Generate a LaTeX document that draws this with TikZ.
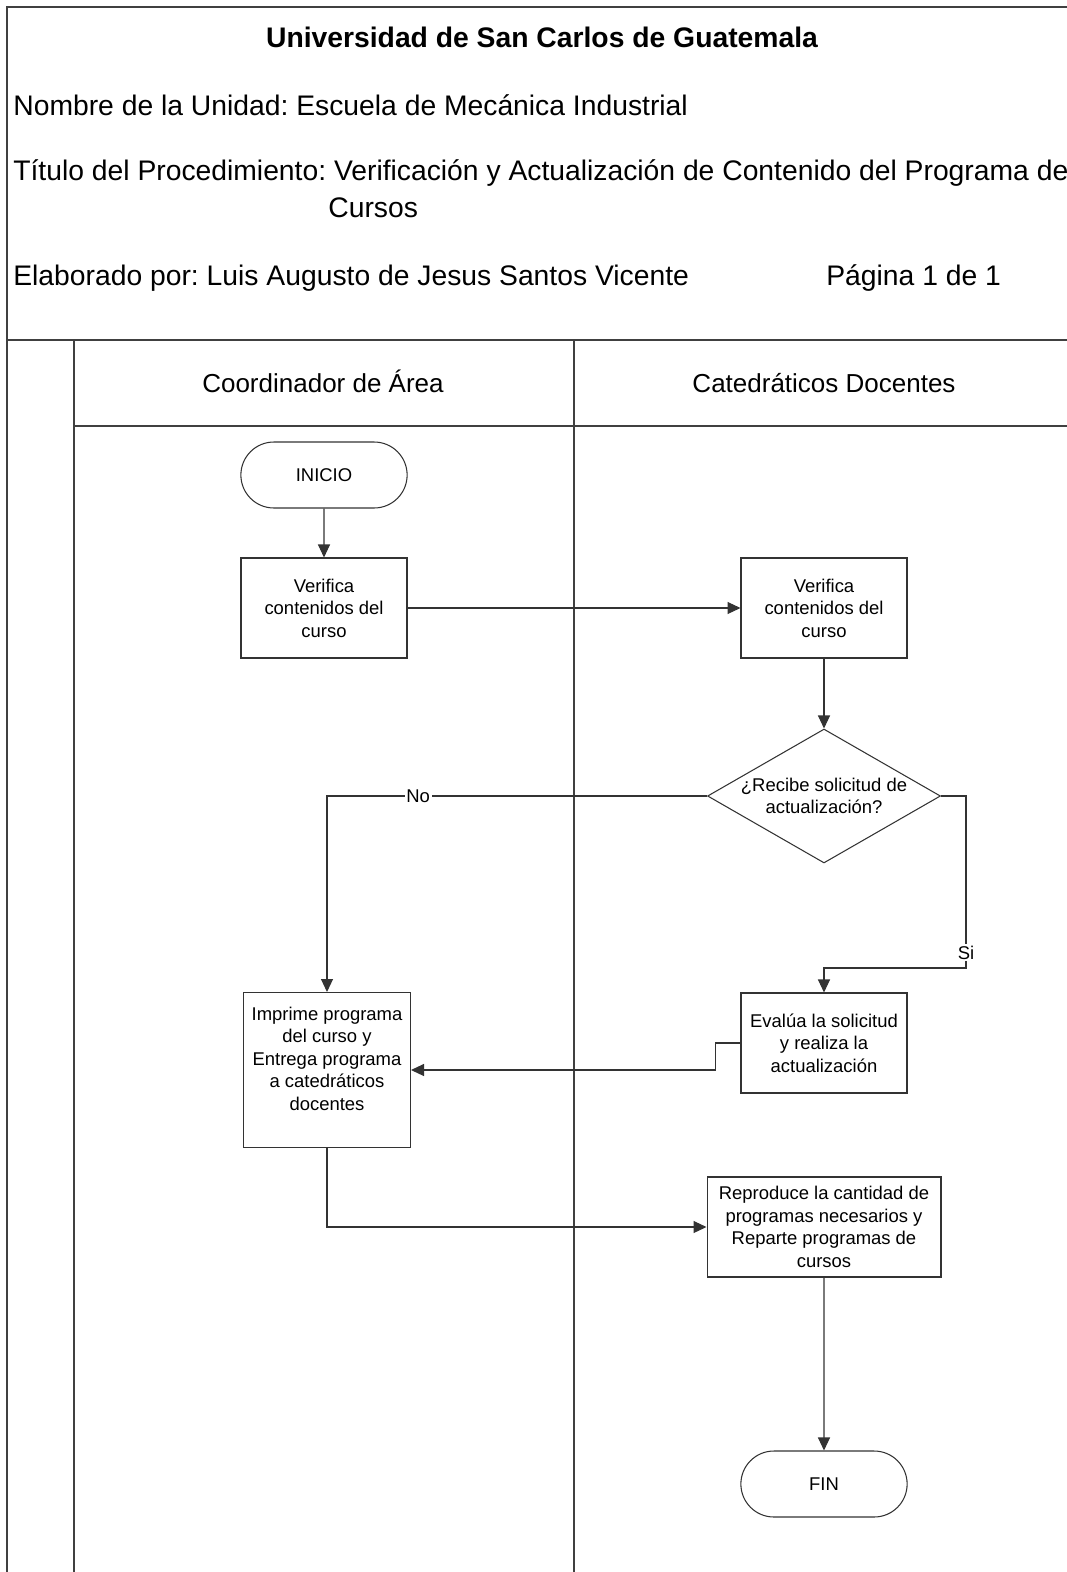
\documentclass[tikz,border=0pt]{standalone}
\usepackage{fontspec}
\setmainfont{Liberation Sans}
\frenchspacing
\usetikzlibrary{shapes.geometric,shapes.misc,arrows.meta}

\def\samebox{{(324,608)/ver1/{Verifica\\contenidos del\\curso}}, {(824,608)/ver2/{Verifica\\contenidos del\\curso}}, {(824,1043)/eval/{Evalúa la solicitud\\y realiza la\\actualización}}}
\def\ends{{(324,475)/ini/INICIO}, {(824,1484)/fin/FIN}}
\colorlet{frame edge}{black!75}
\colorlet{flow edge}{black!80}
\tikzset{
  frame/.style={draw=frame edge, line width=1.2pt},
  boxfont/.style={font=\fontsize{10.5pt}{12.8pt}\selectfont}
  }
\tikzstyle{process} = [rectangle, draw=flow edge, line width=0.6pt, boxfont, align=center, minimum width=3.32cm, minimum height=2cm, inner sep=0pt]
\tikzstyle{terminal} = [rounded rectangle, draw=flow edge, line width=0.6pt, boxfont, minimum width=3.56cm, minimum height=1.32cm]
\tikzstyle{decision} = [diamond, draw=flow edge, line width=0.6pt, minimum width=4.66cm, minimum height=2.68cm, inner sep=0pt]
\tikzstyle{flow} = [draw=flow edge, line width=0.6pt, -{Triangle[length=0.26cm,width=0.24cm]}]
\tikzstyle{flow label} = [fill=white, inner sep=1pt, boxfont]

\begin{document}
\begin{tikzpicture}[x=0.02cm, y=-0.02cm]
  \useasboundingbox (0,0) rectangle (1066,1572);

  % The frame and the two lanes
  \draw[frame] (7,1600) -- (7,7) -- (1100,7);
  \draw[frame] (7,340) -- (1100,340);
  \draw[frame] (74,340) -- (74,1600);
  \draw[frame] (574,340) -- (574,1600);
  \draw[frame, line width=0.8pt] (74,426) -- (1100,426);

  % The header texts
  \node[anchor=base, font=\fontsize{16.1pt}{19pt}\selectfont\bfseries] (titulo) at (542,47) {Universidad de San Carlos de Guatemala};
  \begin{scope}[font=\fontsize{16.1pt}{19pt}\selectfont, inner sep=0pt]
    \node[anchor=base west] (unidad) at (13,115) {Nombre de la Unidad: Escuela de Mecánica Industrial};
    \node[anchor=base west] (proc) at (13,180) {Título del Procedimiento: Verificación y Actualización de Contenido del Programa de};
    \node[anchor=base west] (proc2) at (328,217) {Cursos};
    \node[anchor=base west] (autor) at (13,285) {Elaborado por: Luis Augusto de Jesus Santos Vicente};
    \node[anchor=base west] (pagina) at (826,285) {Página 1 de 1};
  \end{scope}
  \node[anchor=base, font=\fontsize{14.8pt}{18pt}\selectfont] (coord) at (323,392) {Coordinador de Área};
  \node[anchor=base, font=\fontsize{14.8pt}{18pt}\selectfont] (cated) at (824,392) {Catedráticos Docentes};

  % The steps
  \foreach \pos/\name/\text in \ends
    \node[terminal] (\name) at \pos {\text};
  \foreach \pos/\name/\text in \samebox
    \node[process] (\name) at \pos {\text};
  \node[process, minimum width=3.34cm, minimum height=3.1cm] (imp) at (327,1070) {Imprime programa\\del curso y\\Entrega programa\\a catedráticos\\docentes\\\mbox{}};
  \node[process, minimum width=4.68cm] (rep) at (824,1227) {Reproduce la cantidad de\\programas necesarios y\\Reparte programas de\\cursos};
  \node[decision] (dec) at (824,796) {};
  \node[boxfont, align=center] (dec-text) at (dec) {¿Recibe solicitud de\\actualización?};

  % The connections between them
  \foreach \source/\sink in {ini/ver1, ver1/ver2, ver2/dec, rep/fin}
    \path[flow] (\source) -- (\sink);
  \path[flow] (dec.west) -| node[flow label, pos=0.38] {No} (imp.north);
  \coordinate (si-turn) at (966,968);
  \path[flow] (dec.east) -| node[flow label, pos=0.955] {Si} (si-turn) -| (eval.north);
  \path[flow] (eval.west) -- ++(-25,0) |- (imp.east);
  \path[flow] (imp.south) |- (rep.west);
\end{tikzpicture}
\end{document}
